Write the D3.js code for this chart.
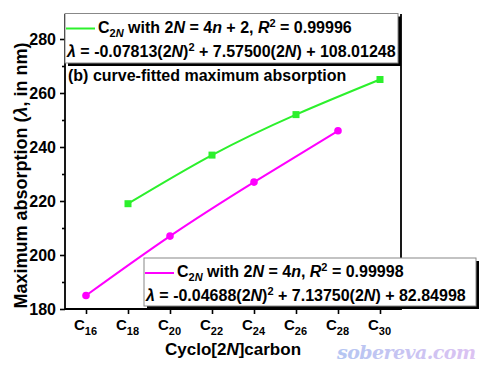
<!DOCTYPE html>
<html>
<head>
<meta charset="utf-8">
<script src="https://cdn.jsdelivr.net/npm/d3@7"></script>
<style>
  body { margin: 0; background: #fff; }
  svg text { font-family: "Liberation Sans", Arial, sans-serif; font-weight: bold; fill: #000; }
  .axis path { display: none; }
  .axis line { stroke: #000; stroke-width: 1.6; }
</style>
</head>
<body>
<div class="chart"></div>
<script>
// data
const ringSizes   = [16, 18, 20, 22, 24, 26, 28, 30];       // x tick values (C16 ... C30)
const yTicks      = [180, 200, 220, 240, 260, 280];
const yMinor      = [190, 210, 230, 250, 270];
const sizes4n2    = [18, 22, 26, 30];                        // 2N = 4n + 2
const lambda4n2   = [219, 237, 252, 265];
const sizes4n     = [16, 20, 24, 28];                        // 2N = 4n
const lambda4n    = [185, 207, 227, 246];

const W = 482, H = 367;
const margin = ({top: 14, right: 81, bottom: 58, left: 65});

const svg = d3.select(".chart")
              .append("svg")
              .attr("width", W)
              .attr("height", H);

const xScale = d3.scaleLinear()
                 .domain([15, 31])
                 .range([margin.left, W - margin.right]);

const yScale = d3.scaleLinear()
                 .domain([180, 280])
                 .range([H - margin.bottom, 39]);   // 280 sits a bit under the top frame

const x0 = margin.left, x1 = W - margin.right,
      yTop = margin.top, yBot = H - margin.bottom;

// y axis: major + minor ticks
const yAxis = svg.append("g")
    .attr("class", "axis")
    .attr("transform", `translate(${x0},0)`)
    .call(d3.axisLeft(yScale).tickValues(yTicks).tickSize(5).tickPadding(4));
yAxis.selectAll("text").style("font-size", "16px");

svg.append("g")
    .attr("class", "axis")
    .attr("transform", `translate(${x0},0)`)
    .call(d3.axisLeft(yScale).tickValues(yMinor).tickSize(3).tickFormat(""));

// x axis with C_n labels
const xAxis = svg.append("g")
    .attr("class", "axis")
    .attr("transform", `translate(0,${yBot})`)
    .call(d3.axisBottom(xScale).tickValues(ringSizes).tickSize(5).tickFormat(""));

const xl = svg.append("g").selectAll("text")
    .data(ringSizes)
    .enter()
    .append("text")
    .attr("x", d => xScale(d) - 12)
    .attr("y", yBot + 21);
xl.append("tspan").style("font-size", "15px").text("C");
xl.append("tspan").style("font-size", "11px").attr("dy", 5).text(d => d);

// frame
svg.append("path")
    .attr("d", `M${x0},${yTop}V${yBot}H${x1}V${yTop}`)
    .attr("fill", "none")
    .attr("stroke", "#000")
    .attr("stroke-width", 1.8);

// curves
const line = d3.line()
    .x(d => xScale(d[0]))
    .y(d => yScale(d[1]))
    .curve(d3.curveNatural);

const green = "#2cf02c", magenta = "#ff00ff";
const pts4n2 = sizes4n2.map((s, i) => [s, lambda4n2[i]]);
const pts4n  = sizes4n.map((s, i) => [s, lambda4n[i]]);

svg.append("path").datum(pts4n2)
    .attr("d", line).attr("fill", "none")
    .attr("stroke", green).attr("stroke-width", 2);
svg.append("path").datum(pts4n)
    .attr("d", line).attr("fill", "none")
    .attr("stroke", magenta).attr("stroke-width", 2);

svg.selectAll(".sq")
    .data(pts4n2)
    .enter()
    .append("rect")
    .attr("x", d => xScale(d[0]) - 3.5)
    .attr("y", d => yScale(d[1]) - 3.5)
    .attr("width", 7).attr("height", 7)
    .attr("fill", green);

svg.selectAll(".dot")
    .data(pts4n)
    .enter()
    .append("circle")
    .attr("cx", d => xScale(d[0]))
    .attr("cy", d => yScale(d[1]))
    .attr("r", 3.8)
    .attr("fill", magenta);

// panel label
svg.append("text")
    .attr("x", 68).attr("y", 81)
    .style("font-size", "16px")
    .text("(b) curve-fitted maximum absorption");

// legend boxes (Origin style with shadow)
function legendBox(bx, by, bw, bh, color, nLabel, coefs) {
    const g = svg.append("g");
    g.append("rect").attr("x", bx + 3).attr("y", by + 3).attr("width", bw).attr("height", bh).attr("fill", "#000");
    g.append("rect").attr("x", bx).attr("y", by).attr("width", bw).attr("height", bh)
        .attr("fill", "#fff").attr("stroke", "#888").attr("stroke-width", 1);
    g.append("line")
        .attr("x1", bx + 1).attr("x2", bx + 30)
        .attr("y1", by + 15).attr("y2", by + 15)
        .attr("stroke", color).attr("stroke-width", 2);

    const t1 = g.append("text").attr("x", bx + 33).attr("y", by + 19).style("font-size", "16px");
    t1.append("tspan").text("C");
    t1.append("tspan").attr("dy", 4).style("font-size", "11px").text("2");
    t1.append("tspan").style("font-size", "11px").style("font-style", "italic").text("N");
    t1.append("tspan").attr("dy", -4).text(" with 2");
    t1.append("tspan").style("font-style", "italic").text("N");
    t1.append("tspan").text(" = 4");
    t1.append("tspan").style("font-style", "italic").text("n");
    t1.append("tspan").text(nLabel[0] + ", ");
    t1.append("tspan").style("font-style", "italic").text("R");
    t1.append("tspan").attr("dy", -6).style("font-size", "11px").text("2");
    t1.append("tspan").attr("dy", 6).text(" = " + nLabel[1]);

    const t2 = g.append("text").attr("x", bx + 2).attr("y", by + 43).style("font-size", "16px");
    t2.append("tspan").style("font-style", "italic").text("\u03bb");
    t2.append("tspan").text(" = " + coefs[0] + "(2");
    t2.append("tspan").style("font-style", "italic").text("N");
    t2.append("tspan").text(")");
    t2.append("tspan").attr("dy", -6).style("font-size", "11px").text("2");
    t2.append("tspan").attr("dy", 6).text(" + " + coefs[1] + "(2");
    t2.append("tspan").style("font-style", "italic").text("N");
    t2.append("tspan").text(") + " + coefs[2]);
}

legendBox(65, 13.5, 333, 49.5, green, [" + 2", "0.99996"], ["-0.07813", "7.57500", "108.01248"]);
legendBox(144, 258, 332, 48, magenta, ["", "0.99998"], ["-0.04688", "7.13750", "82.84998"]);

// axis titles
const yt = svg.append("text")
    .attr("transform", `translate(27,${(yTop + yBot) / 2 + 14}) rotate(-90)`)
    .attr("text-anchor", "middle")
    .style("font-size", "18px");
yt.append("tspan").text("Maximum absorption (");
yt.append("tspan").style("font-style", "italic").text("\u03bb");
yt.append("tspan").text(", in nm)");

const xt = svg.append("text")
    .attr("x", 233).attr("y", 355)
    .attr("text-anchor", "middle")
    .style("font-size", "17px");
xt.append("tspan").text("Cyclo[2");
xt.append("tspan").style("font-style", "italic").text("N");
xt.append("tspan").text("]carbon");

// watermark
const grad = svg.append("defs").append("linearGradient").attr("id", "wm");
grad.append("stop").attr("offset", "0%").attr("stop-color", "#b4c6f2");
grad.append("stop").attr("offset", "100%").attr("stop-color", "#dcc2f2");
svg.append("text")
    .attr("x", 337).attr("y", 359)
    .attr("fill", "url(#wm)")
    .style("fill", "url(#wm)")
    .style("font-family", "'DejaVu Serif', serif")
    .style("font-style", "italic")
    .style("font-size", "19px")
    .attr("textLength", 139)
    .text("sobereva.com");
</script>
</body>
</html>
